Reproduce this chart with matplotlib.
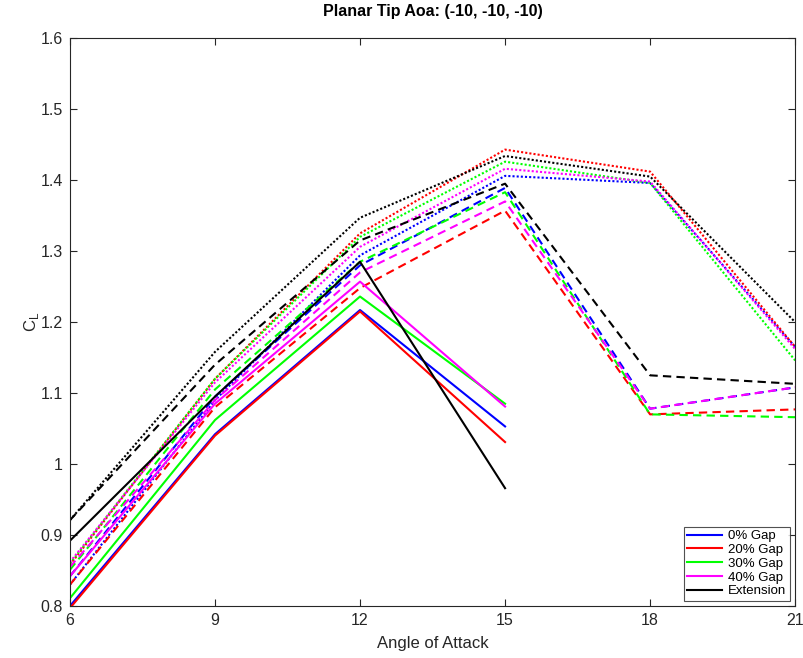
import numpy as np
import matplotlib.pyplot as plt
from matplotlib.lines import Line2D

plt.rcParams['font.family'] = ['Liberation Sans', 'DejaVu Sans']

aoa_solid = [6, 9, 12, 15]
aoa_full = [6, 9, 12, 15, 18, 21]

gaps = ['0% Gap', '20% Gap', '30% Gap', '40% Gap', 'Extension']
colors = ['#0000ff', '#ff0000', '#00ff00', '#ff00ff', '#000000']

# solid: 6..15
cl_solid = {
    '0% Gap':    [0.800, 1.042, 1.217, 1.053],
    '20% Gap':   [0.797, 1.040, 1.215, 1.031],
    '30% Gap':   [0.811, 1.062, 1.236, 1.085],
    '40% Gap':   [0.842, 1.085, 1.257, 1.081],
    'Extension': [0.892, 1.095, 1.285, 0.966],
}
# dashed: 6..21
cl_dashed = {
    '0% Gap':    [0.842, 1.095, 1.280, 1.389, 1.078, 1.108],
    '20% Gap':   [0.830, 1.080, 1.248, 1.357, 1.070, 1.077],
    '30% Gap':   [0.851, 1.105, 1.285, 1.383, 1.070, 1.066],
    '40% Gap':   [0.855, 1.090, 1.270, 1.370, 1.078, 1.108],
    'Extension': [0.921, 1.140, 1.315, 1.395, 1.125, 1.113],
}
# dotted: 6..21
cl_dotted = {
    '0% Gap':    [0.830, 1.090, 1.294, 1.406, 1.396, 1.165],
    '20% Gap':   [0.858, 1.120, 1.325, 1.443, 1.412, 1.165],
    '30% Gap':   [0.860, 1.120, 1.320, 1.426, 1.396, 1.146],
    '40% Gap':   [0.862, 1.115, 1.306, 1.416, 1.398, 1.162],
    'Extension': [0.921, 1.158, 1.347, 1.434, 1.405, 1.200],
}

fig = plt.figure(figsize=(8.04, 6.58), dpi=100)
ax = fig.add_axes([0.087, 0.079, 0.902, 0.863])

lw = 1.5
for g, c in zip(gaps, colors):
    ax.plot(aoa_solid, cl_solid[g], color=c, lw=lw, linestyle='-')
    ax.plot(aoa_full, cl_dashed[g], color=c, lw=lw, linestyle=(0, (4, 2.5)))
    ax.plot(aoa_full, cl_dotted[g], color=c, lw=lw, linestyle=(0, (1, 1)))

ax.set_xlim(6, 21)
ax.set_ylim(0.8, 1.6)
ax.set_xticks([6, 9, 12, 15, 18, 21])
ax.set_yticks(np.arange(0.8, 1.61, 0.1))
ax.set_yticklabels(['0.8', '0.9', '1', '1.1', '1.2', '1.3', '1.4', '1.5', '1.6'])

ax.tick_params(direction='in', top=True, right=True, labelsize=11.5,
               colors='#262626', length=5, pad=5)
for s in ax.spines.values():
    s.set_color('#262626')
    s.set_linewidth(0.8)

ax.set_title('Planar Tip Aoa: (-10, -10, -10)', fontsize=11.5, fontweight='bold',
             color='black', pad=16)
ax.set_xlabel('Angle of Attack', fontsize=12, color='#262626', labelpad=6)
ax.set_ylabel('C$_\\mathregular{L}$', fontsize=12, color='#262626', labelpad=0)

handles = [Line2D([0], [0], color=c, lw=lw) for c in colors]
leg = ax.legend(handles, gaps, loc='lower right', fontsize=9.5, frameon=True,
                fancybox=False, edgecolor='#262626', handlelength=2.6,
                borderpad=0.25, labelspacing=0.12, handletextpad=0.5,
                borderaxespad=0.4)
leg.get_frame().set_linewidth(0.8)

fig.savefig('out.png', dpi=100)
